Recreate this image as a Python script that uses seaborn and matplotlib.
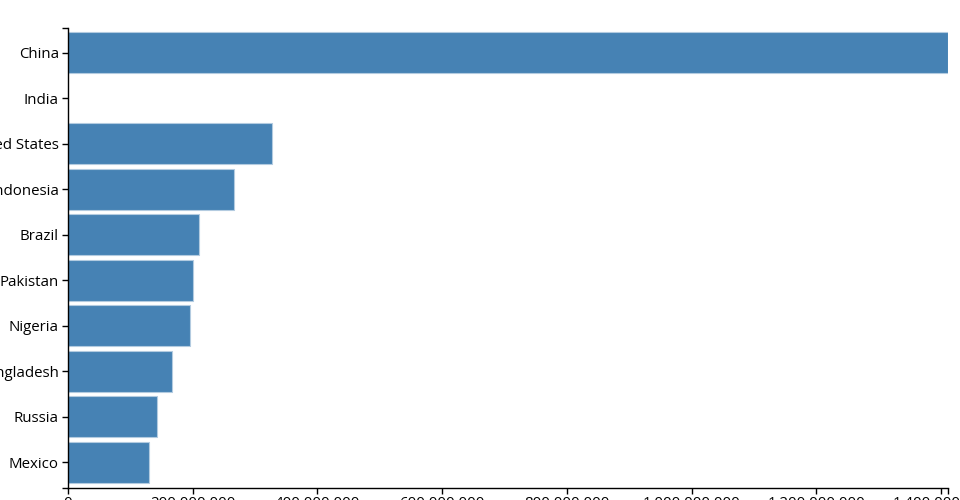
import numpy as np
import pandas as pd
import matplotlib
matplotlib.use("Agg")
import matplotlib.pyplot as plt
import seaborn as sns
from matplotlib.ticker import FuncFormatter, FixedLocator

countries = ["China", "India", "United States", "Indonesia", "Brazil",
             "Pakistan", "Nigeria", "Bangladesh", "Russia", "Mexico"]
# India's bar is absent in the reference, so it has no value here
population = [1411000000, np.nan, 327000000, 266000000, 210000000,
              200000000, 195000000, 166000000, 143000000, 130000000]
x_ticks = [0, 200000000, 400000000, 600000000, 800000000,
           1000000000, 1200000000, 1400000000]

data = pd.DataFrame({"country": countries, "population": population})

sns.set_style("white")
plt.rcParams["font.family"] = ["Open Sans", "DejaVu Sans"]

fig = plt.figure(figsize=(9.6, 5), dpi=100)
ax = fig.add_axes([68 / 960, 1 - 488 / 500, 880 / 960, 459.7 / 500])

sns.barplot(data=data, x="population", y="country", order=countries,
            orient="h", color="#4682b4", saturation=1, width=0.9,
            edgecolor="#b3cbe0", linewidth=0.8, ax=ax)

ax.set_xlim(0, max(p for p in population if not np.isnan(p)))
ax.set_ylim(len(countries) - 0.43, -0.54)
ax.set_xlabel("")
ax.set_ylabel("")

ax.xaxis.set_major_locator(FixedLocator(x_ticks))
ax.xaxis.set_major_formatter(FuncFormatter(lambda v, p: f"{int(v):,}"))
# outer ticks at the ends of the domain lines, like d3 axes
ax.xaxis.set_minor_locator(FixedLocator(list(ax.get_xlim())))
ax.yaxis.set_minor_locator(FixedLocator(list(ax.get_ylim())))

ax.tick_params(axis="both", which="both", direction="out", length=4.3,
               width=1, color="black", bottom=True, left=True,
               labelsize=10.8, labelcolor="black", pad=2.2)
ax.tick_params(axis="x", which="major", pad=1.2)

for side in ["top", "right"]:
    ax.spines[side].set_visible(False)
for side in ["left", "bottom"]:
    ax.spines[side].set_color("black")
    ax.spines[side].set_linewidth(1)

fig.savefig("out.png", dpi=100)
